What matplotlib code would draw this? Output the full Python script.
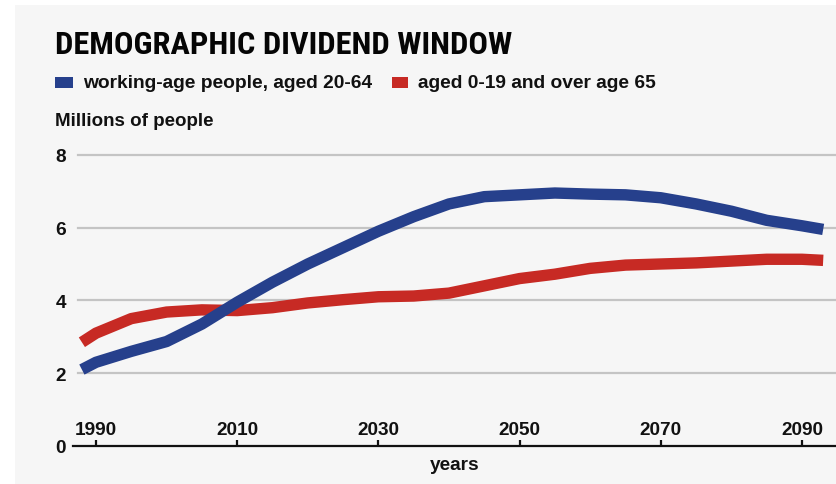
import matplotlib
matplotlib.use("Agg")
import matplotlib.pyplot as plt
from matplotlib import font_manager
from matplotlib.patches import Rectangle

# Population projections, millions of people
years = [1988, 1990, 1995, 2000, 2005, 2010, 2015, 2020, 2025, 2030, 2035, 2040,
         2045, 2050, 2055, 2060, 2065, 2070, 2075, 2080, 2085, 2090, 2093]
working_age = [2.1, 2.3, 2.6, 2.87, 3.35, 3.95, 4.5, 5.0, 5.45, 5.9, 6.3, 6.65,
               6.85, 6.9, 6.95, 6.92, 6.9, 6.82, 6.65, 6.45, 6.2, 6.05, 5.95]
dependents = [2.85, 3.1, 3.5, 3.68, 3.74, 3.72, 3.8, 3.93, 4.02, 4.1, 4.12, 4.2,
              4.4, 4.6, 4.72, 4.88, 4.97, 5.0, 5.03, 5.08, 5.13, 5.13, 5.1]

title = "DEMOGRAPHIC DIVIDEND WINDOW"
legend_labels = ["working-age people, aged 20-64", "aged 0-19 and over age 65"]
y_label = "Millions of people"
x_label = "years"
x_ticks = [1990, 2010, 2030, 2050, 2070, 2090]
y_ticks = [0, 2, 4, 6, 8]

BLUE = "#26408c"
RED = "#c72a24"
PANEL = "#f6f6f6"
GRID = "#c4c4c4"
INK = "#111111"

available = {f.name for f in font_manager.fontManager.ttflist}
title_family = "DejaVu Sans"
for cand in ["Roboto Condensed", "Liberation Sans Narrow", "Liberation Sans"]:
    if cand in available:
        title_family = cand
        break
body_family = "Liberation Sans" if "Liberation Sans" in available else "DejaVu Sans"
plt.rcParams["font.family"] = body_family

W, H = 836, 485
fig = plt.figure(figsize=(W / 100, H / 100), dpi=100, facecolor="white")

def fx(px):
    return px / W

def fy(py):
    return 1 - py / H

# light grey card behind everything
fig.patches.append(Rectangle((fx(15), 0), 1 - fx(15), fy(6), transform=fig.transFigure,
                             facecolor=PANEL, edgecolor="none", zorder=-10))

# axes: x from 73px to 836px, y from 447px (0) upward
px_per_year = 141.2 / 20
x0 = 1990 + (73 - 96) / px_per_year
x1 = 1990 + (836 - 96) / px_per_year
px_per_unit = 36.4
ytop = 8.4
ax = fig.add_axes([fx(73), fy(447), fx(836) - fx(73), (ytop * px_per_unit) / H])
ax.set_facecolor("none")
ax.set_xlim(x0, x1)
ax.set_ylim(0, ytop)

for v in y_ticks[1:]:
    ax.axhline(v, xmin=5 / 763, xmax=1, color=GRID, lw=1.6, zorder=1)

ax.plot(years, working_age, color=BLUE, lw=8.2, solid_capstyle="butt", zorder=3)
ax.plot(years, dependents, color=RED, lw=8.2, solid_capstyle="butt", zorder=2)

for s in ["top", "right", "left"]:
    ax.spines[s].set_visible(False)
ax.spines["bottom"].set_linewidth(1.6)
ax.spines["bottom"].set_color(INK)

ax.set_xticks(x_ticks)
ax.set_xticklabels([str(t) for t in x_ticks], fontsize=13.7, fontweight="bold")
ax.tick_params(axis="x", direction="in", length=4.5, width=1.6, pad=-18, colors=INK)
ax.set_yticks(y_ticks)
ax.set_yticklabels([str(t) for t in y_ticks], fontsize=13.7, fontweight="bold")
ax.tick_params(axis="y", length=0, pad=5, colors=INK)

ax.set_xlabel(x_label, fontsize=13.7, fontweight="bold", labelpad=7, color=INK)

fig.text(fx(55), fy(45), title, fontsize=23.3, fontweight="bold", va="center", ha="left",
         color="#050505", family=title_family)
fig.patches.append(Rectangle((fx(55), fy(89)), fx(18), 11 / H, transform=fig.transFigure,
                             facecolor=BLUE, edgecolor="none"))
fig.text(fx(83), fy(83), legend_labels[0], fontsize=13.8, fontweight="bold", va="center",
         ha="left", color=INK)
fig.patches.append(Rectangle((fx(392), fy(89)), fx(16), 11 / H, transform=fig.transFigure,
                             facecolor=RED, edgecolor="none"))
fig.text(fx(418), fy(83), legend_labels[1], fontsize=13.8, fontweight="bold", va="center",
         ha="left", color=INK)
fig.text(fx(55), fy(121), y_label, fontsize=13.5, fontweight="bold", va="center", ha="left",
         color=INK)

fig.savefig("out.png", dpi=100, facecolor="white")
